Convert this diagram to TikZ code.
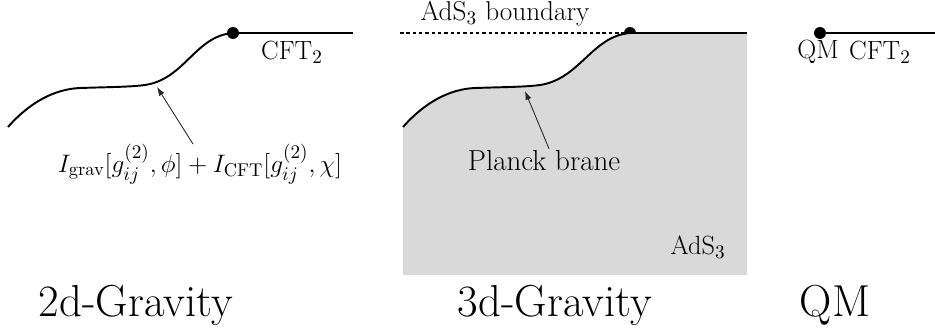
\documentclass[tikz,border=0pt]{standalone}
\usepackage{amsmath}
\usepackage{xcolor}
\usepackage{tikz}
\usetikzlibrary{arrows.meta, positioning, calc}

\begin{document}
\begin{tikzpicture}[x=0.02cm, y=-0.02cm,
  brane/.style={line width=1.1pt, black},
  bdry/.style={line width=1.1pt, black},
  pointer/.style={-{Latex[length=5pt, width=3.5pt]}, line width=0.5pt, black!85},
  lbl/.style={font=\fontsize{15}{18}\selectfont, inner sep=1pt},
  biglbl/.style={font=\fontsize{16.5}{19}\selectfont, inner sep=1pt},
  title/.style={font=\fontsize{25.5}{30}\selectfont, inner sep=0pt},
  endpt/.style={circle, fill=black, inner sep=0pt, minimum size=6.8pt}
]
\useasboundingbox (0,0) rectangle (935,332);

% 2d gravity
\node[endpt] (dotA) at (233,33) {};
\coordinate (endA) at (353,33);
\coordinate (hitA) at (157,87);
\draw[brane] (8,127) .. controls (30,102) and (55,89) .. (80,88)
  .. controls (110,87) and (130,87) .. (145,85)
  .. controls (185,79) and (195,36) .. (dotA.center);
\draw[bdry] (dotA.center) -- (endA);
\node[lbl] (cftA) at (292,52) {CFT$_2$};
\node[lbl] (actA) at (200,164) {$I_{\text{grav}}[g^{(2)}_{ij},\phi]+I_{\text{CFT}}[g^{(2)}_{ij},\chi]$};
\draw[pointer] ($(actA.north)+(-7,2)$) -- (hitA);
\node[title] (ttlA) at (136,305) {2d-Gravity};

% 3d gravity
\node[endpt] (dotB) at (630,33) {};
\coordinate (endB) at (747,33);
\coordinate (hitB) at (525,91);
\fill[black!15] (403,127) .. controls (425,102) and (450,89) .. (475,88)
  .. controls (505,87) and (525,87) .. (540,85)
  .. controls (580,79) and (592,36) .. (630,33)
  -- (747,33) -- (747,275) -- (403,275) -- cycle;
\draw[brane] (403,127) .. controls (425,102) and (450,89) .. (475,88)
  .. controls (505,87) and (525,87) .. (540,85)
  .. controls (580,79) and (592,36) .. (dotB.center);
\draw[bdry] (dotB.center) -- (endB);
\draw[dashed, line width=0.8pt, dash pattern=on 2pt off 1.6pt] (400,33) -- (dotB.center);
\node[lbl, font=\fontsize{15.5}{18}\selectfont] (bdryB) at (505,14) {AdS$_3$ boundary};
\node[biglbl] (plB) at (544,161) {Planck brane};
\draw[pointer] ($(plB.north)+(5,0)$) -- (hitB);
\node[lbl] (adsB) at (698,247) {AdS$_3$};
\node[title] (ttlB) at (555,305) {3d-Gravity};

% QM
\node[endpt] (dotC) at (820,33) {};
\coordinate (endC) at (935,33);
\draw[bdry] (dotC.center) -- (endC);
\node[lbl] (qmC) at (818,52) {QM};
\node[lbl] (cftC) at (880,52) {CFT$_2$};
\node[title] (ttlC) at (835,305) {QM};
\end{tikzpicture}
\end{document}
